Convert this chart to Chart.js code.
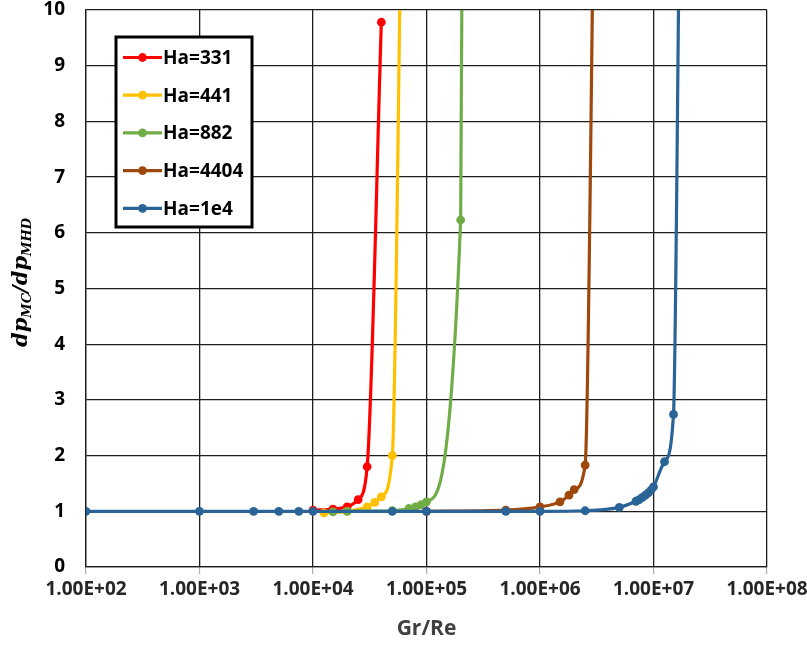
<!DOCTYPE html>
<html>
<head>
<meta charset="utf-8">
<script src="https://cdn.jsdelivr.net/npm/chart.js@4/dist/chart.umd.min.js"></script>
<style>
  html, body { margin: 0; padding: 0; background: #ffffff; }
  #wrap { width: 807px; height: 648px; }
</style>
</head>
<body>
<div id="wrap"><canvas id="c" width="807" height="648"></canvas></div>
<script>
// Pressure-drop ratio dp_MC / dp_MHD against Gr/Re for five Hartmann numbers
const seriesLabels = ['Ha=331', 'Ha=441', 'Ha=882', 'Ha=4404', 'Ha=1e4'];
const seriesColors = ['#FF0000', '#FFC000', '#70AD47', '#9E480E', '#2A6496'];

const ha331X = [1e4, 1.5e4, 2e4, 2.5e4, 3e4, 4e4];
const ha331Y = [1.02, 1.04, 1.08, 1.21, 1.8, 9.78];

const ha441X = [1.25e4, 2e4, 3e4, 3.5e4, 4e4, 5e4, 6e4];
const ha441Y = [0.97, 1.0, 1.08, 1.16, 1.26, 2.0, 12];

const ha882X = [1.5e4, 2e4, 5e4, 7e4, 8e4, 9e4, 1e5, 2e5, 2.1e5];
const ha882Y = [0.99, 1.0, 1.01, 1.05, 1.08, 1.12, 1.17, 6.23, 15];

const ha4404X = [1e5, 5e5, 1e6, 1.5e6, 1.8e6, 2e6, 2.5e6, 3e6];
const ha4404Y = [1.0, 1.02, 1.08, 1.17, 1.29, 1.39, 1.83, 12.5];

const ha1e4X = [1e2, 1e3, 3e3, 5e3, 7.5e3, 1e4, 5e4, 1e5, 5e5, 1e6, 2.5e6, 5e6, 7e6, 7.5e6, 8e6, 8.5e6, 9e6, 9.5e6, 1e7, 1.25e7, 1.5e7, 1.7e7];
const ha1e4Y = [1, 1, 1, 1, 1, 1, 1, 1, 1, 1, 1.01, 1.07, 1.18, 1.21, 1.25, 1.29, 1.33, 1.38, 1.44, 1.89, 2.74, 12];

const xTickValues = [1e2, 1e3, 1e4, 1e5, 1e6, 1e7, 1e8];
const yTickMin = 0, yTickMax = 10, yTickStep = 1;

const seriesX = [ha331X, ha441X, ha882X, ha4404X, ha1e4X];
const seriesY = [ha331Y, ha441Y, ha882Y, ha4404Y, ha1e4Y];

function sci(v) {
  const e = Math.round(Math.log10(v));
  const m = v / Math.pow(10, e);
  const es = (e < 0 ? '-' : '+') + String(Math.abs(e)).padStart(2, '0');
  return m.toFixed(2) + 'E' + es;
}

const TICK_FONT = { family: 'Open Sans', size: 19, weight: 'bold' };
const TEXT_COLOR = '#262626';

const datasets = seriesLabels.map((label, i) => ({
  label,
  data: seriesX[i].map((x, j) => ({ x, y: seriesY[i][j] })),
  showLine: true,
  borderColor: seriesColors[i],
  backgroundColor: seriesColors[i],
  borderWidth: 3.2,
  pointRadius: 4.4,
  pointHoverRadius: 4.4,
  pointBorderWidth: 0,
  cubicInterpolationMode: 'monotone',
  tension: 0.4,
  order: seriesLabels.length - 1 - i
}));

// axis title with subscripts, drawn rotated along the left edge
const yTitlePlugin = {
  id: 'yTitle',
  afterDraw(chart) {
    const ctx = chart.ctx;
    const area = chart.chartArea;
    const parts = [
      { t: 'dp', sub: false }, { t: 'MC', sub: true }, { t: '/', sub: false },
      { t: 'dp', sub: false }, { t: 'MHD', sub: true }
    ];
    const bigFont = 'italic bold 21px "DejaVu Serif"';
    const smallFont = 'italic bold 13px "DejaVu Serif"';
    ctx.save();
    let total = 0;
    parts.forEach(p => { ctx.font = p.sub ? smallFont : bigFont; p.w = ctx.measureText(p.t).width; total += p.w; });
    ctx.translate(22, (area.top + area.bottom) / 2 - 6);
    ctx.rotate(-Math.PI / 2);
    ctx.fillStyle = '#000000';
    ctx.textBaseline = 'alphabetic';
    ctx.textAlign = 'left';
    let x = -total / 2;
    parts.forEach(p => {
      ctx.font = p.sub ? smallFont : bigFont;
      ctx.fillText(p.t, x, p.sub ? 9 : 5);
      x += p.w;
    });
    ctx.restore();
  }
};

// boxed legend placed inside the plot area
const boxLegendPlugin = {
  id: 'boxLegend',
  afterDraw(chart) {
    const ctx = chart.ctx;
    const bx = 116, by = 37, bw = 136, bh = 190;
    ctx.save();
    ctx.fillStyle = '#ffffff';
    ctx.fillRect(bx, by, bw, bh);
    ctx.lineWidth = 3;
    ctx.strokeStyle = '#000000';
    ctx.strokeRect(bx, by, bw, bh);
    const rowY0 = 57.5, rowStep = 37.7;
    chart.data.datasets.forEach((ds, i) => {
      const y = rowY0 + i * rowStep;
      ctx.strokeStyle = ds.borderColor;
      ctx.lineWidth = 3.2;
      ctx.beginPath();
      ctx.moveTo(123, y);
      ctx.lineTo(162, y);
      ctx.stroke();
      ctx.fillStyle = ds.borderColor;
      ctx.beginPath();
      ctx.arc(142.5, y, 4.4, 0, Math.PI * 2);
      ctx.fill();
      ctx.fillStyle = '#000000';
      ctx.font = 'bold 19px "Open Sans"';
      ctx.textBaseline = 'middle';
      ctx.textAlign = 'left';
      ctx.fillText(ds.label, 163, y + 1);
    });
    ctx.restore();
  }
};

new Chart(document.getElementById('c'), {
  type: 'scatter',
  data: { datasets },
  options: {
    responsive: false,
    animation: false,
    events: [],
    layout: { padding: { top: 10, right: 40, left: 0, bottom: 0 } },
    plugins: { legend: { display: false }, tooltip: { enabled: false } },
    scales: {
      x: {
        type: 'logarithmic',
        min: xTickValues[0],
        max: xTickValues[xTickValues.length - 1],
        afterBuildTicks(scale) { scale.ticks = xTickValues.map(v => ({ value: v })); },
        afterFit(scale) { scale.height = 81; scale.paddingLeft = 0; scale.paddingRight = 0; },
        ticks: {
          autoSkip: false, maxRotation: 0, minRotation: 0,
          callback: (v) => sci(v),
          font: TICK_FONT, color: TEXT_COLOR, padding: 4
        },
        grid: { color: '#1e1e1e', lineWidth: 1.3, tickLength: 7, tickColor: '#a0a0a0', tickWidth: 1 },
        border: { color: '#1e1e1e', width: 1.3 },
        title: {
          display: true, text: 'Gr/Re',
          font: { family: 'Open Sans', size: 21, weight: 'bold' },
          color: '#404040', padding: { top: 0, bottom: 6 }
        }
      },
      y: {
        type: 'linear',
        min: yTickMin, max: yTickMax,
        afterFit(scale) { scale.width = 86; scale.paddingTop = 0; scale.paddingBottom = 0; },
        ticks: { stepSize: yTickStep, font: TICK_FONT, color: '#000000', padding: 20 },
        grid: { color: '#1e1e1e', lineWidth: 1.3, tickLength: 1, tickColor: 'rgba(0,0,0,0)' },
        border: { color: '#1e1e1e', width: 1.3 }
      }
    }
  },
  plugins: [yTitlePlugin, boxLegendPlugin]
});
</script>
</body>
</html>
